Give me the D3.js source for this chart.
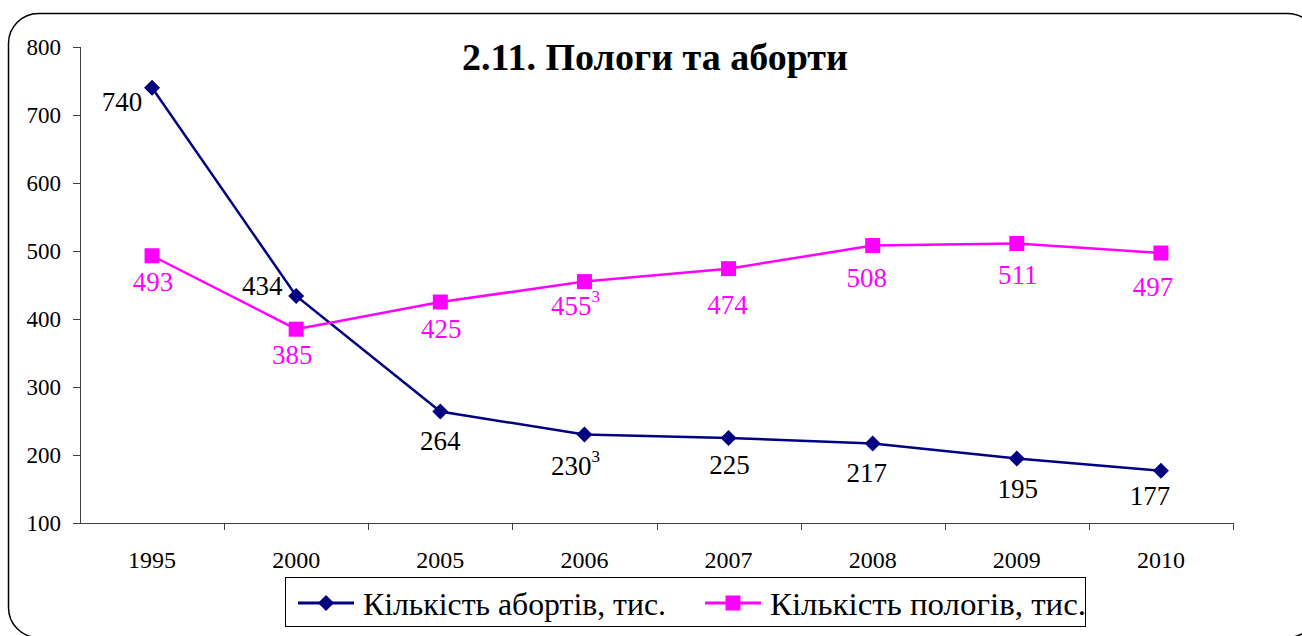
<!DOCTYPE html>
<html><head><meta charset="utf-8">
<script src="https://cdn.jsdelivr.net/npm/d3@7"></script>
<style>html,body{margin:0;padding:0;background:#fff;overflow:hidden}</style>
</head><body>
<svg id="c" width="1302" height="636"></svg>
<script>
const categories = ["1995","2000","2005","2006","2007","2008","2009","2010"];
const abortions = [740,434,264,230,225,217,195,177];
const births = [493,385,425,455,474,508,511,497];
const abortionSup = ["","","","3","","","",""];
const birthSup = ["","","","3","","","",""];
const yTicks = [100,200,300,400,500,600,700,800];
const seriesNames = ["Кількість абортів, тис.","Кількість пологів, тис."];
const title = "2.11. Пологи та аборти";
// label offsets (dx, dy) relative to the point
const abortLabelOff = [[-30,14],[-34,-10],[0,29],[-9,31],[1,27],[-6,29],[1,30],[-11,25]];
const birthLabelOff = [[1,26],[-4,25],[1,27],[-9,24],[-1,36],[-6,32],[1,31],[-8,34]];

const svg = d3.select("#c");
const F = "'Liberation Serif','Times New Roman',serif";
const navy = "#000080", mag = "#FF00FF";

// outer rounded border
svg.append("rect").attr("x",8.5).attr("y",13.5).attr("width",1309).attr("height",624)
  .attr("rx",30).attr("ry",30).attr("fill","none").attr("stroke","#000").attr("stroke-width",1.5);

const x = d3.scaleBand().domain(categories).range([80,1233]).padding(0);
const y = d3.scaleLinear().domain([100,800]).range([523,47]);
const cx = d => x(d) + x.bandwidth()/2;

const axisColor = "#404040";
const g = svg.append("g");
// y axis
g.append("line").attr("x1",80.5).attr("x2",80.5).attr("y1",y(800)).attr("y2",y(100)).attr("stroke",axisColor);
yTicks.forEach(t=>{
  g.append("line").attr("x1",73).attr("x2",80.5).attr("y1",Math.round(y(t))+0.5).attr("y2",Math.round(y(t))+0.5).attr("stroke",axisColor);
  g.append("text").attr("x",61).attr("y",y(t)).attr("dy","0.35em").attr("text-anchor","end")
    .attr("font-family",F).attr("font-size",23).text(t);
});
// x axis
g.append("line").attr("x1",80).attr("x2",1233).attr("y1",Math.round(y(100))+0.5).attr("y2",Math.round(y(100))+0.5).attr("stroke",axisColor);
categories.forEach((c,i)=>{
  const bx = Math.round(x(c)+x.bandwidth())+0.5;
  g.append("line").attr("x1",bx).attr("x2",bx).attr("y1",y(100)).attr("y2",y(100)+7).attr("stroke",axisColor);
  g.append("text").attr("x",cx(c)).attr("y",560).attr("dy","0.35em").attr("text-anchor","middle")
    .attr("font-family",F).attr("font-size",24).text(c);
});

// title
svg.append("text").attr("x",655).attr("y",70).attr("text-anchor","middle")
  .attr("font-family",F).attr("font-weight","bold").attr("font-size",38).text(title);

const line = d3.line().x((d,i)=>cx(categories[i])).y(d=>y(d));

function series(vals, color, shape, sup, offs){
  svg.append("path").datum(vals).attr("d",line).attr("fill","none").attr("stroke",color).attr("stroke-width",2.5);
  vals.forEach((v,i)=>{
    const px = cx(categories[i]), py = y(v);
    if(shape==="diamond"){
      svg.append("path").attr("d","M0,-8L8,0L0,8L-8,0Z").attr("transform",`translate(${px},${py})`).attr("fill",color);
    } else {
      svg.append("rect").attr("x",px-7.5).attr("y",py-7.5).attr("width",15).attr("height",15).attr("fill",color);
    }
    const t = svg.append("text").attr("x",px+offs[i][0]).attr("y",py+offs[i][1]).attr("dy","0.35em")
      .attr("text-anchor","middle").attr("font-family",F).attr("font-size",27).attr("fill", color===navy?"#000":color);
    t.append("tspan").text(v);
    if(sup[i]) t.append("tspan").attr("font-size",17).attr("dy","-0.75em").text(sup[i]);
  });
}
series(abortions, navy, "diamond", abortionSup, abortLabelOff);
series(births, mag, "square", birthSup, birthLabelOff);

// legend
const lg = svg.append("g");
lg.append("rect").attr("x",285.5).attr("y",577.5).attr("width",800).attr("height",49).attr("fill","#fff").attr("stroke","#000").attr("stroke-width",1);
const leg = [[298,navy,"diamond",seriesNames[0]],[705,mag,"square",seriesNames[1]]];
leg.forEach(([lx,col,shape,name])=>{
  lg.append("line").attr("x1",lx).attr("x2",lx+56).attr("y1",603).attr("y2",603).attr("stroke",col).attr("stroke-width",3);
  if(shape==="diamond") lg.append("path").attr("d","M0,-8L8,0L0,8L-8,0Z").attr("transform",`translate(${lx+28},603)`).attr("fill",col);
  else lg.append("rect").attr("x",lx+28-7.5).attr("y",603-7.5).attr("width",15).attr("height",15).attr("fill",col);
  lg.append("text").attr("x",lx+65).attr("y",604).attr("dy","0.35em").attr("font-family",F).attr("font-size",31)
    .attr("textLength", name===seriesNames[0]?303:316).attr("lengthAdjust","spacingAndGlyphs").text(name);
});
</script>
</body></html>
